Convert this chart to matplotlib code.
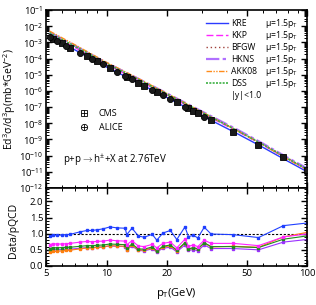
import matplotlib
matplotlib.use("Agg")
import matplotlib.pyplot as plt
from matplotlib.lines import Line2D
from matplotlib.ticker import LogLocator, FixedLocator, MultipleLocator, NullFormatter

plt.rcParams["font.family"] = ["Open Sans", "DejaVu Sans"]
plt.rcParams["mathtext.fontset"] = "custom"
plt.rcParams["mathtext.rm"] = "Open Sans"
plt.rcParams["mathtext.it"] = "Open Sans"

# data points
pt_alice = [5.2, 5.65, 6.3, 7.4, 8.45, 9.6, 11.3, 12.4, 13.4, 16.9, 19.1, 20.8, 24.6, 30.7]
xs_alice = [2.2e-3, 1.29e-3, 6.4e-4, 2.3e-4, 9.8e-5, 4.3e-5, 1.53e-5, 8.5e-6, 5.1e-6,
            1.16e-6, 5.3e-7, 3.1e-7, 1.05e-7, 2.55e-8]
pt_cms = [5.4, 6.0, 6.6, 8.0, 8.95, 10.4, 12.6, 14.4, 15.4, 17.8, 22.4, 25.6, 27.1, 28.5,
          33.2, 42.9, 57.2, 76.2, 99.6]
xs_cms = [1.73e-3, 8.8e-4, 4.8e-4, 1.40e-4, 6.8e-5, 2.6e-5, 7.6e-6, 3.2e-6, 2.1e-6, 8.4e-7,
          1.92e-7, 8.2e-8, 5.7e-8, 4.1e-8, 1.55e-8, 3.0e-9, 4.75e-10, 7.6e-11, 1.37e-11]

# pQCD curves
pt_th = [5.2, 7, 10, 14, 20, 30, 45, 60, 80, 100]
kre = [2.3e-3, 3.3e-4, 3.0e-5, 3.7e-6, 3.9e-7, 2.9e-8, 2.2e-9, 3.3e-10, 4.5e-11, 1.0e-11]
kkp = [3.2e-3, 4.6e-4, 4.3e-5, 5.3e-6, 5.5e-7, 4.1e-8, 3.1e-9, 4.6e-10, 6.1e-11, 1.35e-11]
bfgw = [3.6e-3, 5.2e-4, 4.8e-5, 5.9e-6, 6.2e-7, 4.6e-8, 3.5e-9, 5.2e-10, 6.9e-11, 1.5e-11]
hkns = [4.2e-3, 6.0e-4, 5.4e-5, 6.7e-6, 7.0e-7, 5.2e-8, 3.9e-9, 5.6e-10, 7.3e-11, 1.6e-11]
akk08 = [5.0e-3, 6.8e-4, 5.8e-5, 7.0e-6, 6.9e-7, 4.9e-8, 3.4e-9, 4.7e-10, 5.9e-11, 1.27e-11]
dss = [3.9e-3, 5.5e-4, 5.0e-5, 6.1e-6, 6.3e-7, 4.6e-8, 3.4e-9, 5.0e-10, 6.5e-11, 1.43e-11]

# Data/pQCD ratios
pt_all = [5.2, 5.4, 5.65, 6.0, 6.3, 6.6, 7.4, 8.0, 8.45, 8.95, 9.6, 10.4, 11.3, 12.4, 12.6,
          13.4, 14.4, 15.4, 16.9, 17.8, 19.1, 20.8, 22.4, 24.6, 25.6, 27.1, 28.5, 30.7, 33.2,
          42.9, 57.2, 76.2, 99.6]
r_kre = [0.92, 0.97, 0.95, 0.96, 0.97, 0.98, 1.06, 1.10, 1.10, 1.12, 1.15, 1.21, 1.18, 1.17,
         0.97, 1.17, 0.93, 0.89, 0.98, 0.80, 1.02, 1.10, 0.82, 1.21, 0.91, 0.95, 0.87, 1.20,
         0.99, 0.97, 0.88, 1.25, 1.33]
r_kkp = [0.66, 0.69, 0.68, 0.68, 0.69, 0.70, 0.74, 0.76, 0.75, 0.76, 0.77, 0.80, 0.78, 0.77,
         0.66, 0.78, 0.62, 0.60, 0.67, 0.56, 0.70, 0.74, 0.56, 0.83, 0.61, 0.65, 0.60, 0.80,
         0.70, 0.70, 0.63, 0.90, 0.99]
r_dss = [0.54, 0.57, 0.56, 0.57, 0.58, 0.58, 0.61, 0.63, 0.63, 0.64, 0.65, 0.68, 0.67, 0.66,
         0.55, 0.68, 0.53, 0.52, 0.59, 0.47, 0.61, 0.65, 0.49, 0.72, 0.53, 0.57, 0.53, 0.72,
         0.60, 0.60, 0.57, 0.83, 0.93]
r_akk08 = [0.42, 0.45, 0.45, 0.47, 0.48, 0.49, 0.53, 0.56, 0.56, 0.58, 0.59, 0.63, 0.62, 0.61,
           0.51, 0.64, 0.50, 0.49, 0.56, 0.45, 0.58, 0.63, 0.47, 0.71, 0.52, 0.56, 0.52, 0.71,
           0.59, 0.61, 0.58, 0.90, 1.04]
r_hkns = [0.48, 0.51, 0.50, 0.51, 0.52, 0.52, 0.55, 0.57, 0.57, 0.58, 0.59, 0.62, 0.61, 0.60,
          0.50, 0.62, 0.48, 0.47, 0.53, 0.43, 0.55, 0.58, 0.44, 0.65, 0.48, 0.51, 0.47, 0.65,
          0.54, 0.54, 0.50, 0.74, 0.82]

fig = plt.figure(figsize=(3.16, 3.05), dpi=100)
ax = fig.add_axes([0.146, 0.384, 0.826, 0.583])
axr = fig.add_axes([0.146, 0.128, 0.826, 0.256], sharex=ax)

curves = [
    ("KRE", kre, "#2b3bff", "-", 1.0),
    ("KKP", kkp, "#ff22ff", (0, (5, 2)), 1.0),
    ("BFGW", bfgw, "#a0403a", (0, (1, 2)), 1.0),
    ("HKNS", hkns, "#b070ff", (0, (6, 1.5, 1.5, 1.5)), 1.6),
    ("AKK08", akk08, "#ff8c1a", (0, (4, 1, 1, 1, 1, 1)), 1.0),
    ("DSS", dss, "#3cb043", (0, (1.2, 0.8)), 1.2),
]
handles = []
for name, ys, col, ls, lw in curves:
    h, = ax.plot(pt_th, ys, color=col, ls=ls, lw=lw, label=name)
    handles.append(h)
handles.append(Line2D([], [], ls="none", label="|y|<1.0"))

ax.plot(pt_cms, xs_cms, ls="none", marker="s", ms=4.2, mfc="0.1", mec="k", mew=0.6, zorder=5)
ax.plot(pt_alice, xs_alice, ls="none", marker="o", ms=4.4, mfc="0.1", mec="k", mew=0.6, zorder=5)

ax.set_xscale("log")
ax.set_yscale("log")
ax.set_xlim(5, 100)
ax.set_ylim(1e-12, 1e-1)
ax.yaxis.set_major_locator(LogLocator(base=10, numticks=20))
ax.yaxis.set_minor_locator(LogLocator(base=10, subs=range(2, 10), numticks=20))
ax.yaxis.set_minor_formatter(NullFormatter())
ax.tick_params(labelbottom=False)
ax.set_ylabel("Ed$^3\\sigma$/d$^3$p(mb*GeV$^{-2}$)", fontsize=7.5, labelpad=1)

# ratio panel
ratio_lines = [
    (r_hkns, "#9b30ff"),
    (r_akk08, "#ff7f0e"),
    (r_dss, "#1f8a1f"),
    (r_kkp, "#ff22ff"),
    (r_kre, "#1f3fff"),
]
for ys, col in ratio_lines:
    axr.plot(pt_all, ys, color=col, lw=0.8, marker="s", ms=1.9, mec=col)
axr.axhline(1.0, color="k", ls=(0, (2, 1.5)), lw=0.8, zorder=0)

axr.set_ylim(0, 2.42)
axr.yaxis.set_major_locator(MultipleLocator(0.5))
axr.yaxis.set_minor_locator(MultipleLocator(0.1))
axr.yaxis.set_major_formatter(matplotlib.ticker.FormatStrFormatter("%.1f"))
axr.xaxis.set_major_locator(FixedLocator([5, 10, 20, 50, 100]))
axr.xaxis.set_minor_locator(FixedLocator([6, 7, 8, 9, 30, 40, 60, 70, 80, 90]))
axr.xaxis.set_major_formatter(matplotlib.ticker.FixedFormatter(["5", "10", "20", "50", "100"]))
axr.xaxis.set_minor_formatter(NullFormatter())
axr.set_xlabel("p$_{\\rm T}$(GeV)", fontsize=8, labelpad=6)
axr.set_ylabel("Data/pQCD", fontsize=7.5, labelpad=3)
axr.yaxis.set_label_coords(-0.105, 0.45)

for a in (ax, axr):
    a.tick_params(which="both", direction="in", top=True, right=True, labelsize=6.8, pad=2)
    a.tick_params(which="major", length=4, width=1.0)
    a.tick_params(which="minor", length=2, width=0.7)
    for s in a.spines.values():
        s.set_linewidth(1.2)

leg = ax.legend(handles=handles, loc="upper right", bbox_to_anchor=(0.85, 0.985), fontsize=6.2,
                frameon=False, handlelength=2.6, handletextpad=0.3, labelspacing=0.35,
                borderpad=0.2)
fig.canvas.draw()
for t in leg.get_texts()[:6]:
    bb = t.get_window_extent()
    y = (bb.y0 + bb.y1) / 2 / fig.dpi / fig.get_size_inches()[1]
    fig.text(0.838, y, "$\\mu$=1.5p$_{\\rm T}$", fontsize=6.2, va="center", ha="left")

# CMS / ALICE legend
cms_h = Line2D([], [], ls="none", marker="s", ms=4.5, mfc="white", mec="k", mew=0.6)
cms_p = Line2D([], [], ls="none", marker="+", ms=4.5, mec="k", mew=0.6)
al_h = Line2D([], [], ls="none", marker="o", ms=4.5, mfc="white", mec="k", mew=0.6)
al_p = Line2D([], [], ls="none", marker="+", ms=4.5, mec="k", mew=0.6)
leg2 = ax.legend([(cms_h, cms_p), (al_h, al_p)], ["CMS", "ALICE"], loc="lower left",
                 bbox_to_anchor=(0.08, 0.27), fontsize=6.5, frameon=False,
                 handletextpad=0.6, labelspacing=0.5)
ax.add_artist(leg)

ax.text(0.065, 0.15, "p+p$\\rightarrow$h$^{\\pm}$+X at 2.76TeV", transform=ax.transAxes,
        fontsize=7, va="center")

fig.savefig("out.png", dpi=100)
